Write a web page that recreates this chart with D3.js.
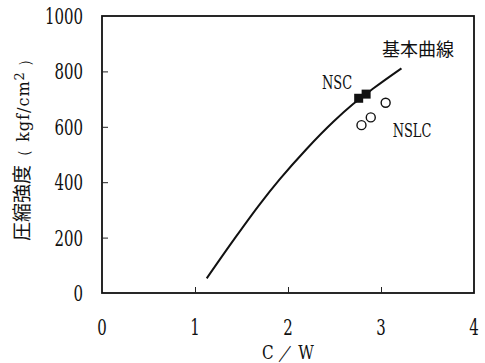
<!DOCTYPE html>
<html><head><meta charset="utf-8">
<script src="https://cdn.jsdelivr.net/npm/d3@7"></script>
<style>body{margin:0;background:#fff}svg{display:block}</style>
</head><body>
<svg id="c" width="485" height="363"></svg>
<script>
const curveX = [1.126, 1.41, 1.70, 1.91, 2.20, 2.49, 2.70, 2.92, 3.22];
const curveY = [53, 189, 322, 410, 520, 619, 682, 739, 811];
const nscX = [2.76, 2.84];
const nscY = [703, 718];
const nslcX = [2.79, 2.89, 3.05];
const nslcY = [606, 634, 687];
const xTicks = [0, 1, 2, 3, 4];
const yTicks = [0, 200, 400, 600, 800, 1000];

const svg = d3.select("#c");
const L = 102, R = 474, T = 16, B = 293;
const x = d3.scaleLinear().domain([0, 4]).range([L, R]);
const y = d3.scaleLinear().domain([0, 1000]).range([B, T]);
const font = "DejaVu Serif";
const cjk = "'Noto Sans CJK JP','Noto Sans CJK SC',sans-serif";

// frame
svg.append("rect").attr("x", L).attr("y", T).attr("width", R - L).attr("height", B - T)
  .attr("fill", "none").attr("stroke", "#111").attr("stroke-width", 1.8);

// inward ticks
const xa = svg.append("g").attr("transform", `translate(0,${B})`)
  .call(d3.axisBottom(x).tickValues(xTicks.slice(1, -1)).tickSizeInner(-6).tickSizeOuter(0).tickFormat(""));
xa.select(".domain").remove();
xa.selectAll("line").attr("stroke", "#222").attr("stroke-width", 1);
const ya = svg.append("g").attr("transform", `translate(${L},0)`)
  .call(d3.axisLeft(y).tickValues(yTicks.slice(1, -1)).tickSizeInner(-6).tickSizeOuter(0).tickFormat(""));
ya.select(".domain").remove();
ya.selectAll("line").attr("stroke", "#222").attr("stroke-width", 1);

// tick labels (tall, narrow digits)
svg.append("g").selectAll("text").data(yTicks).join("text")
  .attr("transform", d => `translate(83,${y(d)}) scale(0.68,1)`).attr("dy", "0.36em")
  .attr("text-anchor", "end").attr("font-family", font).attr("font-size", 22)
  .attr("fill", "#111").text(d => d);
svg.append("g").selectAll("text").data(xTicks).join("text")
  .attr("transform", d => `translate(${x(d)},327) scale(0.68,1)`).attr("dy", "0.36em")
  .attr("text-anchor", "middle").attr("font-family", font).attr("font-size", 22)
  .attr("fill", "#111").text(d => d);

// axis titles
svg.append("text").attr("transform", "translate(288,352) scale(0.8,1)").attr("dy", "0.36em")
  .attr("text-anchor", "middle").attr("font-family", font).attr("font-size", 19)
  .attr("fill", "#111").text("C ／ W");
const yl = svg.append("text").attr("transform", "translate(22,146) rotate(-90)")
  .attr("dy", "0.36em").attr("text-anchor", "middle")
  .attr("font-family", cjk).attr("font-size", 19).attr("fill", "#111");
yl.append("tspan").text("圧縮強度");
yl.append("tspan").attr("font-family", font).attr("font-size", 16).attr("letter-spacing", 1).text("（ kgf/cm");
yl.append("tspan").attr("font-family", font).attr("font-size", 13).attr("dy", "-0.35em").text("2");
yl.append("tspan").attr("font-family", font).attr("font-size", 16).attr("dy", "0.35em").text("  ）");

// curve
const pts = curveX.map((v, i) => [v, curveY[i]]);
svg.append("path").datum(pts)
  .attr("d", d3.line().x(d => x(d[0])).y(d => y(d[1])).curve(d3.curveMonotoneX))
  .attr("fill", "none").attr("stroke", "#111").attr("stroke-width", 2);

// NSC squares
const s = 9;
svg.append("g").selectAll("rect").data(nscX.map((v, i) => [v, nscY[i]])).join("rect")
  .attr("x", d => x(d[0]) - s / 2).attr("y", d => y(d[1]) - s / 2)
  .attr("width", s).attr("height", s).attr("fill", "#111");

// NSLC circles
svg.append("g").selectAll("circle").data(nslcX.map((v, i) => [v, nslcY[i]])).join("circle")
  .attr("cx", d => x(d[0])).attr("cy", d => y(d[1])).attr("r", 4.5)
  .attr("fill", "#fff").attr("stroke", "#111").attr("stroke-width", 1.4);

// labels
svg.append("text").attr("transform", "translate(337,83) scale(0.72,1)").attr("dy", "0.36em").attr("text-anchor", "middle")
  .attr("font-family", font).attr("font-size", 18).attr("fill", "#111").text("NSC");
svg.append("text").attr("transform", "translate(412,131) scale(0.72,1)").attr("dy", "0.36em").attr("text-anchor", "middle")
  .attr("font-family", font).attr("font-size", 18).attr("fill", "#111").text("NSLC");
svg.append("text").attr("x", 418).attr("y", 50).attr("dy", "0.36em").attr("text-anchor", "middle")
  .attr("font-family", cjk).attr("font-size", 18).attr("fill", "#111").text("基本曲線");
</script>
</body></html>
